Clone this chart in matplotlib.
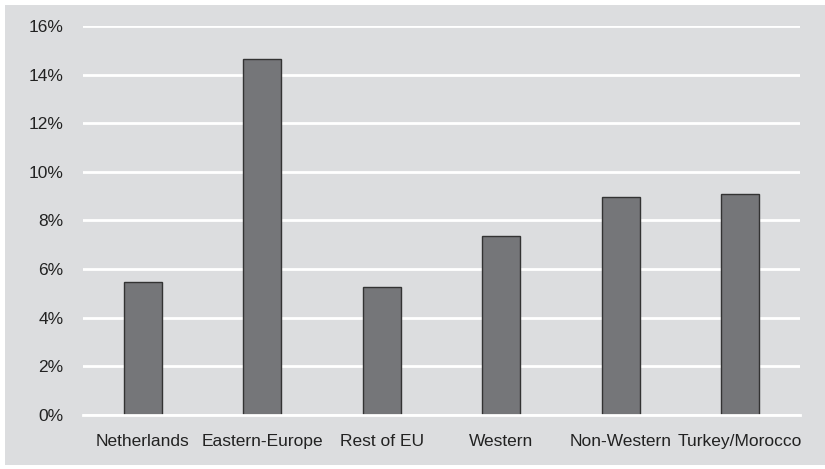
import matplotlib

matplotlib.use("Agg")

import matplotlib.pyplot as plt  # noqa: E402
import numpy as np  # noqa: E402
from matplotlib.patches import Rectangle  # noqa: E402
from matplotlib.ticker import FuncFormatter  # noqa: E402

# Share of group (percent)
categories = ["Netherlands", "Eastern-Europe", "Rest of EU", "Western", "Non-Western", "Turkey/Morocco"]
values = [5.45, 14.65, 5.25, 7.35, 8.98, 9.07]
yticks = [0, 2, 4, 6, 8, 10, 12, 14, 16]

BG = "#dcdddf"
BAR = "#757679"
TEXT = "#222222"

plt.rcParams["font.family"] = ["Liberation Sans", "DejaVu Sans"]

fig = plt.figure(figsize=(8.25, 4.69), dpi=100)
fig.patch.set_facecolor("white")
# grey panel, leaving a thin white margin on top/left/bottom
fig.add_artist(
    Rectangle((5 / 825, 4 / 469), 820 / 825, 460 / 469,
              transform=fig.transFigure, facecolor=BG, edgecolor="none", zorder=-10)
)

ax = fig.add_axes((83 / 825, 1 - 415 / 469, 717 / 825, 389 / 469))
ax.patch.set_alpha(0)

x = np.arange(len(categories))
ax.bar(x, values, width=0.32, color=BAR, edgecolor="#333333", linewidth=1.0, zorder=3)

ax.set_xlim(-0.5, len(categories) - 0.5)
ax.set_ylim(0, 16)
ax.set_yticks(yticks)
ax.yaxis.set_major_formatter(FuncFormatter(lambda v, _: f"{v:.0f}%"))
ax.set_xticks(x)
ax.set_xticklabels(categories)

ax.grid(True, axis="y", color="white", linewidth=2.0, zorder=0)
ax.set_axisbelow(True)
for s in ax.spines.values():
    s.set_visible(False)
ax.tick_params(axis="both", length=0, labelsize=12.5, colors=TEXT)
ax.tick_params(axis="y", pad=14)
ax.tick_params(axis="x", pad=14)
ax.axhline(0, color="white", linewidth=2.0, zorder=4, clip_on=False)

fig.savefig("out.png", dpi=100, facecolor=fig.get_facecolor())
